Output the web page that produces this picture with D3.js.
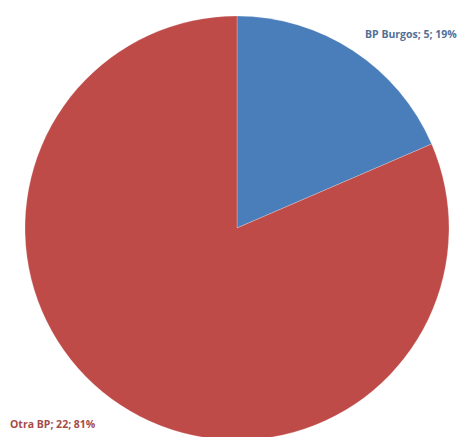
<!DOCTYPE html>
<html><head><meta charset="utf-8">
<script src="https://cdn.jsdelivr.net/npm/d3@7"></script>
<style>body{margin:0;background:#fff}svg{display:block}</style>
</head><body>
<svg id="c" width="470" height="437"></svg>
<script>
const categories = ["BP Burgos", "Otra BP"];
const values = [5, 22];
const percentLabels = ["19%", "81%"];
const colors = ["#4a7ebb", "#be4b48"];
const labelColors = ["#536f96", "#a54d4b"];

const svg = d3.select("#c");
const cx = 237, cy = 228, r = 212;
const pie = d3.pie().sort(null).value(d => d)(values);
const arc = d3.arc().innerRadius(0).outerRadius(r);
const g = svg.append("g").attr("transform", `translate(${cx},${cy})`);
g.selectAll("path").data(pie).join("path")
  .attr("d", arc)
  .attr("fill", (d, i) => colors[i])
  .attr("stroke", "#fff").attr("stroke-width", 0.6).attr("stroke-opacity", 0.4);

const labelPos = [[365, 38], [10, 428]];
svg.selectAll("text.lbl").data(categories).join("text")
  .attr("class", "lbl")
  .attr("x", (d, i) => labelPos[i][0])
  .attr("y", (d, i) => labelPos[i][1])
  .attr("fill", (d, i) => labelColors[i])
  .attr("font-family", "Open Sans, Liberation Sans, sans-serif")
  .attr("font-weight", "bold")
  .attr("font-size", "10.5px")
  .text((d, i) => `${d}; ${values[i]}; ${percentLabels[i]}`);
</script>
</body></html>
